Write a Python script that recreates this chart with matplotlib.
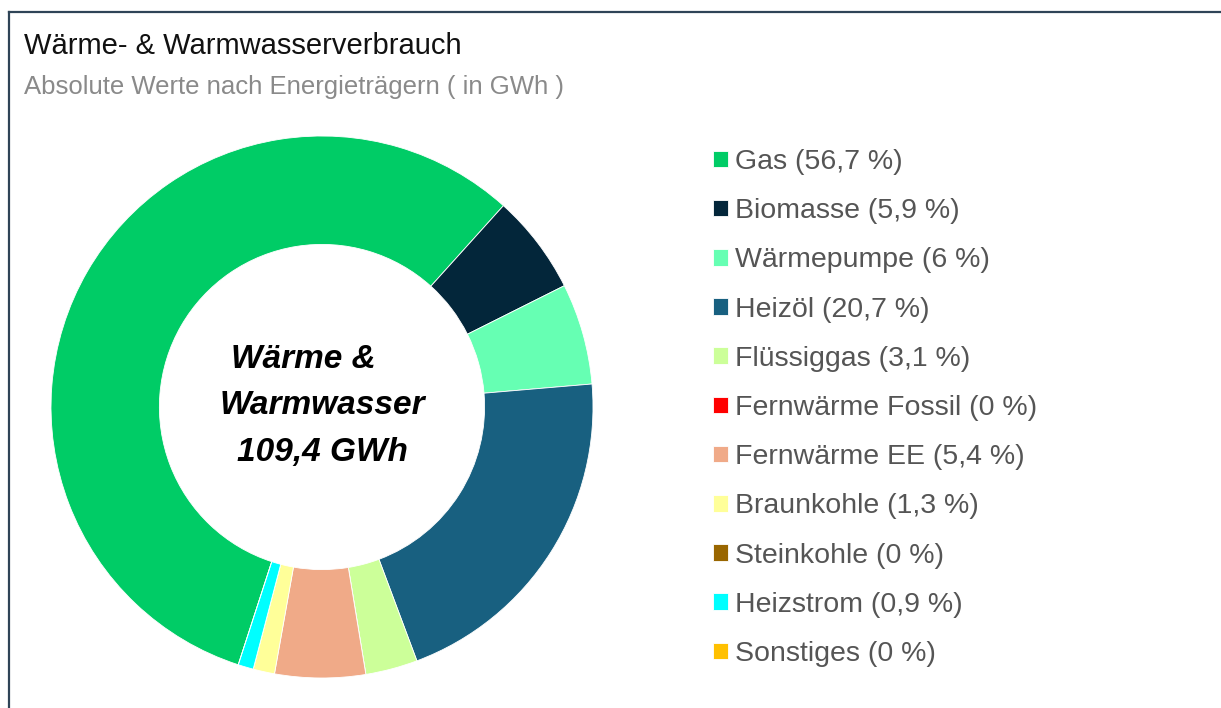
import matplotlib.pyplot as plt
from matplotlib.lines import Line2D

plt.rcParams['font.family'] = ['Liberation Sans', 'DejaVu Sans']

# Werte in GWh (gesamt 109,4 GWh)
traeger = ["Gas", "Biomasse", "Wärmepumpe", "Heizöl", "Flüssiggas", "Fernwärme Fossil",
           "Fernwärme EE", "Braunkohle", "Steinkohle", "Heizstrom", "Sonstiges"]
werte = [62.0, 6.5, 6.6, 22.6, 3.4, 0.0, 5.9, 1.4, 0.0, 1.0, 0.0]
anteile = ["56,7", "5,9", "6", "20,7", "3,1", "0", "5,4", "1,3", "0", "0,9", "0"]
farben = ["#00CC66", "#03263A", "#66FFB3", "#186080", "#CCFF99", "#FF0000",
          "#F0AA88", "#FFFF99", "#996600", "#00FFFF", "#FFC000"]

fig = plt.figure(figsize=(12.21, 7.08), dpi=100)

# Rahmen oben und links
fig.add_artist(Line2D([9 / 1221, 1], [1 - 12 / 708, 1 - 12 / 708], color="#2F4457", lw=1.6))
fig.add_artist(Line2D([9 / 1221, 9 / 1221], [0, 1 - 12 / 708], color="#2F4457", lw=1.6))

fig.text(24 / 1221, 1 - 46 / 708, "Wärme- & Warmwasserverbrauch", fontsize=21,
         color="#111111", va="center")
fig.text(24 / 1221, 1 - 87 / 708, "Absolute Werte nach Energieträgern ( in GWh )", fontsize=18.5,
         color="#8A8A8A", va="center")

ax = fig.add_axes([51 / 1221, 30 / 708, 542 / 1221, 542 / 708])
wedges, _ = ax.pie(werte, colors=farben, startangle=252, counterclock=False,
                   radius=1, wedgeprops=dict(width=0.4, edgecolor="white", linewidth=0.6))
ax.set_xlim(-1, 1)
ax.set_ylim(-1, 1)
ax.set_aspect("equal")

ax.text(0, 0.005, "Wärme &    \nWarmwasser\n109,4 GWh", ha="center", va="center",
        fontsize=24, fontweight="bold", fontstyle="italic", linespacing=1.65)

labels = [f"{t} ({a} %)" for t, a in zip(traeger, anteile)]
fig.legend(wedges, labels, loc="upper left", bbox_to_anchor=(713 / 1221, 1 - 149 / 708),
           frameon=False, fontsize=20.5, labelcolor="#555555", handlelength=0.52,
           handleheight=0.52, handletextpad=0.27, labelspacing=0.815,
           borderpad=0, borderaxespad=0)

fig.savefig("out.png", dpi=100)
